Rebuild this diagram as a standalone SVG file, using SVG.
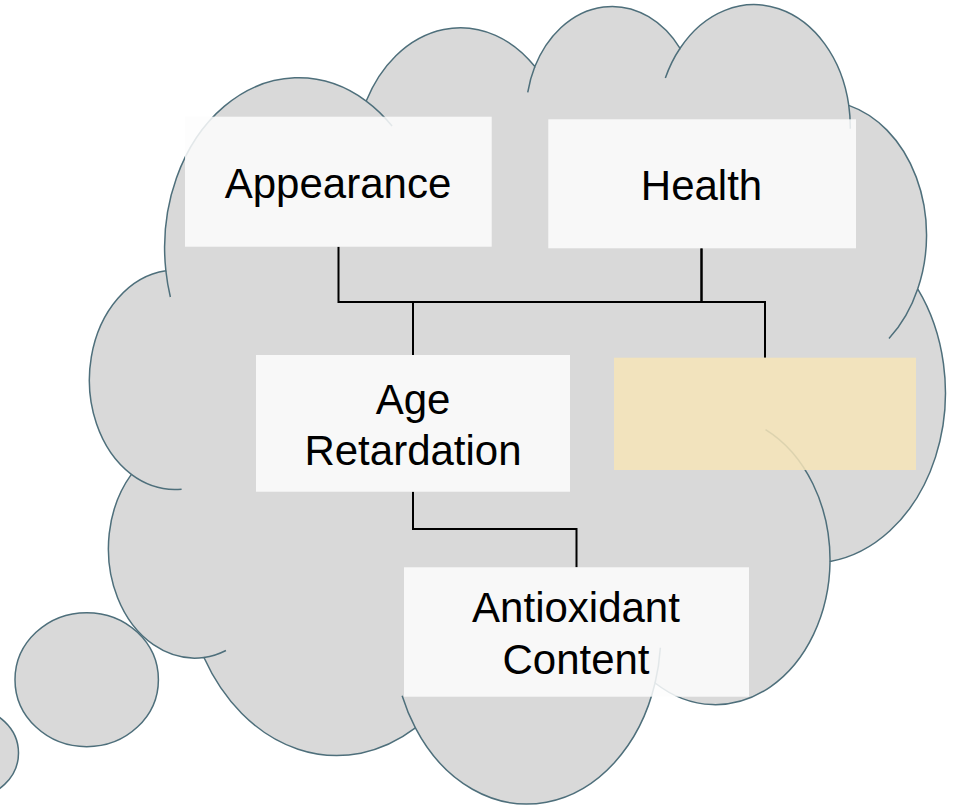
<svg xmlns="http://www.w3.org/2000/svg" width="955" height="806" viewBox="0 0 955 806">
  <style>
    .cloud { fill: #d9d9d9; stroke: #4e6f7b; stroke-width: 1.5; }
    .rim { fill: none; stroke: #4e6f7b; stroke-width: 1.5; }
    .box { fill: #fdfdfd; fill-opacity: 0.85; }
    .box-note { fill: #f6e4b7; fill-opacity: 0.85; }
    .wire { fill: none; stroke: #000000; stroke-width: 2; }
    .label { font-family: "Liberation Sans", Arial, sans-serif; font-size: 42px; fill: #000000; text-anchor: middle; }
  </style>

  <!-- thought cloud with its trailing bubbles -->
  <g id="thought-cloud">
    <ellipse class="cloud" cx="-29" cy="753" rx="47.5" ry="44.4"/>
    <ellipse class="cloud" cx="86.7" cy="679.7" rx="71.7" ry="67"/>
    <g transform="translate(88.5,5) scale(0.019838,0.018495)">
      <path class="cloud" vector-effect="non-scaling-stroke"
        d="M3900,14370 A6753,9190 0 0 1 14000,5192 A5333,7267 0 0 1 22500,3330 A4365,5945 0 0 1 29820,2340 A4857,6595 0 0 1 38324,5426 A5333,7273 0 0 1 41798,15354 A6775,9220 0 0 1 37380,30090 A5785,7867 0 0 1 28560,36660 A6752,9215 0 0 1 16478,39090 A7720,10543 0 0 1 5820,35280 A4360,5918 0 0 1 2160,25380 A4345,5945 0 0 1 3900,14370 Z"/>
      <path class="rim" vector-effect="non-scaling-stroke"
        d="M4693,26177 A4345,5945 0 0 1 2160,25380 M6928,34899 A4360,5918 0 0 1 5820,35280 M16478,39090 A6752,9215 0 0 1 15810,37350 M28827,34751 A6752,9215 0 0 1 28560,36660 M34129,22954 A5785,7867 0 0 1 37380,30090 M41798,15354 A5333,7273 0 0 1 40350,18030 M38324,5426 A4857,6595 0 0 1 38400,6690 M29078,3952 A4857,6595 0 0 1 29820,2340 M22141,4720 A4365,5945 0 0 1 22500,3330 M14000,5192 A6753,9190 0 0 1 15300,6540 M4127,15789 A6753,9190 0 0 1 3900,14370"/>
    </g>
  </g>

  <!-- connectors -->
  <g id="connectors">
    <path class="wire" d="M338.5,246.7 V302 H413 V355"/>
    <path class="wire" d="M701.5,248.3 V302 H413"/>
    <path class="wire" d="M701.5,248.3 V302 H765 V357.7"/>
    <path class="wire" d="M413,491.7 V529 H576.5 V567.3"/>
  </g>

  <!-- nodes -->
  <g id="node-appearance">
    <rect class="box" x="185" y="116.7" width="306.7" height="130"/>
    <text class="label" x="338" y="197.5">Appearance</text>
  </g>
  <g id="node-health">
    <rect class="box" x="548.3" y="119.3" width="307.7" height="129"/>
    <text class="label" x="701.5" y="199.5">Health</text>
  </g>
  <g id="node-age-retardation">
    <rect class="box" x="256" y="355" width="314" height="136.7"/>
    <text class="label" x="413" y="413.5">Age</text>
    <text class="label" x="413" y="465">Retardation</text>
  </g>
  <g id="node-blank">
    <rect class="box-note" x="614" y="357.7" width="302" height="112.3"/>
  </g>
  <g id="node-antioxidant-content">
    <rect class="box" x="404" y="567.3" width="345" height="129.4"/>
    <text class="label" x="576" y="621.7">Antioxidant</text>
    <text class="label" x="576" y="673.5">Content</text>
  </g>
</svg>
